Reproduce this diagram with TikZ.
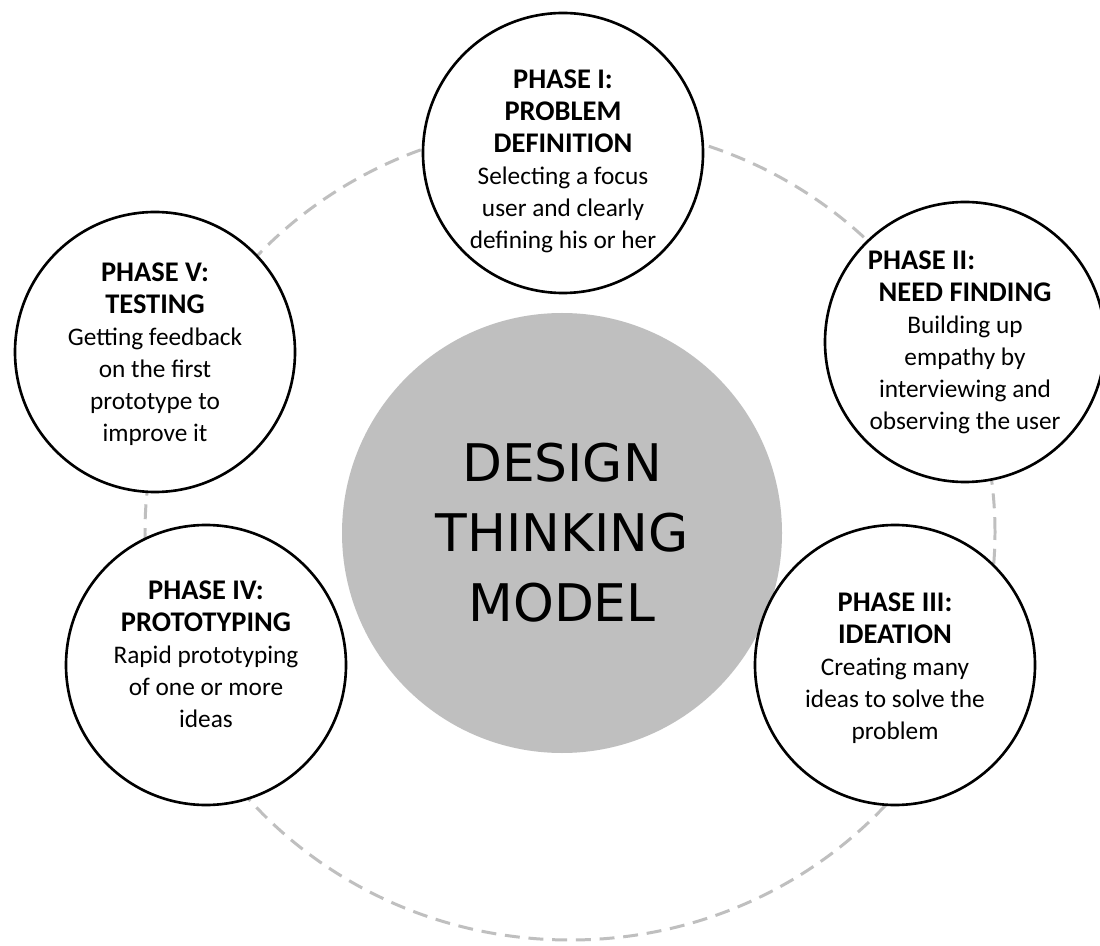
\documentclass[tikz,border=0pt]{standalone}
\usepackage{fontspec}
\setmainfont{Carlito}
\newfontfamily\hubfont{DejaVu Sans}
\usepackage{tikz}
\tikzset{
  phase/.style={circle, draw=black, line width=1.5pt, fill=white, minimum size=5.6cm, inner sep=0pt},
  phasetext/.style={align=center, inner sep=0pt, font=\fontsize{14.4}{18.2}\selectfont},
  hub/.style={circle, fill=black!25, minimum size=8.8cm, inner sep=0pt, align=center,
    font=\hubfont\fontsize{29.5}{39.8}\selectfont},
  ring/.style={draw=black!25, line width=1.7pt, dash pattern=on 8.5pt off 5pt}
}
\newcommand{\phasehead}[1]{{\bfseries\fontsize{16.2}{18.2}\selectfont #1}}

\begin{document}
\begin{tikzpicture}
        \useasboundingbox[fill=white] (0, 0) rectangle (22, 18.9);

        % dashed loop behind the phases
        \draw[ring] (11.4, 8.26) ellipse [x radius=8.5, y radius=8.16];

        \node[hub] (dtm) at (11.24, 8.24) {DESIGN\\THINKING\\MODEL};

        % the five phase circles
        \node[phase] (p1) at (11.26, 15.84) {};
        \node[phase] (p2) at (19.30, 12.06) {};
        \node[phase] (p3) at (17.90, 5.60) {};
        \node[phase] (p4) at (4.12, 5.60) {};
        \node[phase] (p5) at (3.10, 11.86) {};

        % their texts
        \node[phasetext, yshift=-0.16cm] (t1) at (p1) {\phasehead{PHASE I:}\\\phasehead{PROBLEM}\\\phasehead{DEFINITION}\\
          Selecting a focus\\user and clearly\\defining his or her};
        \node[phasetext] (t2) at (p2) {\phasehead{PHASE II:}\hspace*{1.74cm}\\\phasehead{NEED FINDING}\\
          Building up\\empathy by\\interviewing and\\observing the user};
        \node[phasetext, yshift=-0.06cm] (t3) at (p3) {\phasehead{PHASE III:}\\\phasehead{IDEATION}\\
          Creating many\\ideas to solve the\\problem};
        \node[phasetext, yshift=0.22cm] (t4) at (p4) {\phasehead{PHASE IV:}\\\phasehead{PROTOTYPING}\\
          Rapid prototyping\\of one or more\\ideas};
        \node[phasetext, yshift=-0.04cm] (t5) at (p5) {\phasehead{PHASE V:}\\\phasehead{TESTING}\\
          Getting feedback\\on the first\\prototype to\\improve it};
      \end{tikzpicture}
\end{document}
